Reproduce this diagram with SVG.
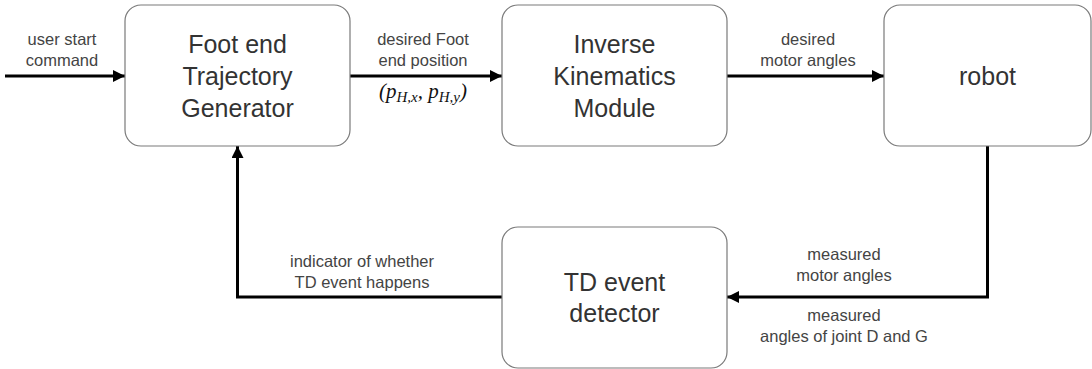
<svg xmlns="http://www.w3.org/2000/svg" width="1092" height="369" viewBox="0 0 1092 369">
  <style>
    .box { fill: #ffffff; stroke: #7a7a7a; stroke-width: 1.2; }
    .node-text { font-family: "Liberation Sans", Arial, sans-serif; font-size: 25px; fill: #333333; text-anchor: middle; }
    .label { font-family: "Liberation Sans", Arial, sans-serif; font-size: 16.5px; fill: #444444; text-anchor: middle; }
    .math { font-family: "Liberation Serif", "Times New Roman", serif; font-style: italic; font-size: 21px; fill: #111111; text-anchor: middle; }
    .wire { fill: none; stroke: #000000; stroke-width: 3; }
  </style>
  <defs>
    <marker id="arrow" viewBox="0 0 10 10" refX="10" refY="5" markerWidth="4" markerHeight="4" markerUnits="strokeWidth" orient="auto">
      <path d="M0,0 L10,5 L0,10 Z" fill="#000000"/>
    </marker>
  </defs>
  <rect width="1092" height="369" fill="#ffffff"/>

  <!-- connectors -->
  <g id="connectors">
    <line class="wire" x1="5" y1="76" x2="125" y2="76" marker-end="url(#arrow)"/>
    <line class="wire" x1="350" y1="76" x2="502" y2="76" marker-end="url(#arrow)"/>
    <line class="wire" x1="727" y1="76" x2="884" y2="76" marker-end="url(#arrow)"/>
    <polyline class="wire" points="987.5,146 987.5,297 727,297" marker-end="url(#arrow)"/>
    <polyline class="wire" points="502,297 237.5,297 237.5,146" marker-end="url(#arrow)"/>
  </g>

  <!-- connector labels -->
  <g id="labels">
    <text class="label" x="62" y="45">user start</text>
    <text class="label" x="62" y="66">command</text>
    <text class="label" x="423" y="45">desired Foot</text>
    <text class="label" x="423" y="66">end position</text>
    <text class="math" x="423" y="98">(<tspan>p</tspan><tspan font-size="15" dy="4">H,x</tspan><tspan dy="-4">, p</tspan><tspan font-size="15" dy="4">H,y</tspan><tspan dy="-4">)</tspan></text>
    <text class="label" x="808" y="45">desired</text>
    <text class="label" x="808" y="66">motor angles</text>
    <text class="label" x="362" y="267">indicator of whether</text>
    <text class="label" x="362" y="288">TD event happens</text>
    <text class="label" x="844" y="260">measured</text>
    <text class="label" x="844" y="281">motor angles</text>
    <text class="label" x="844" y="321">measured</text>
    <text class="label" x="844" y="342">angles of joint D and G</text>
  </g>

  <g id="foot-end-trajectory-generator">
    <rect class="box" x="125" y="5" width="225" height="141" rx="16"/>
    <text class="node-text" x="237.5" y="53">Foot end</text>
    <text class="node-text" x="237.5" y="85">Trajectory</text>
    <text class="node-text" x="237.5" y="117">Generator</text>
  </g>

  <g id="inverse-kinematics-module">
    <rect class="box" x="502" y="5" width="225" height="141" rx="16"/>
    <text class="node-text" x="614.5" y="53">Inverse</text>
    <text class="node-text" x="614.5" y="85">Kinematics</text>
    <text class="node-text" x="614.5" y="117">Module</text>
  </g>

  <g id="robot">
    <rect class="box" x="884" y="5" width="207" height="141" rx="16"/>
    <text class="node-text" x="987.5" y="85">robot</text>
  </g>

  <g id="td-event-detector">
    <rect class="box" x="502" y="227" width="225" height="141" rx="16"/>
    <text class="node-text" x="614.5" y="291">TD event</text>
    <text class="node-text" x="614.5" y="322">detector</text>
  </g>
</svg>
